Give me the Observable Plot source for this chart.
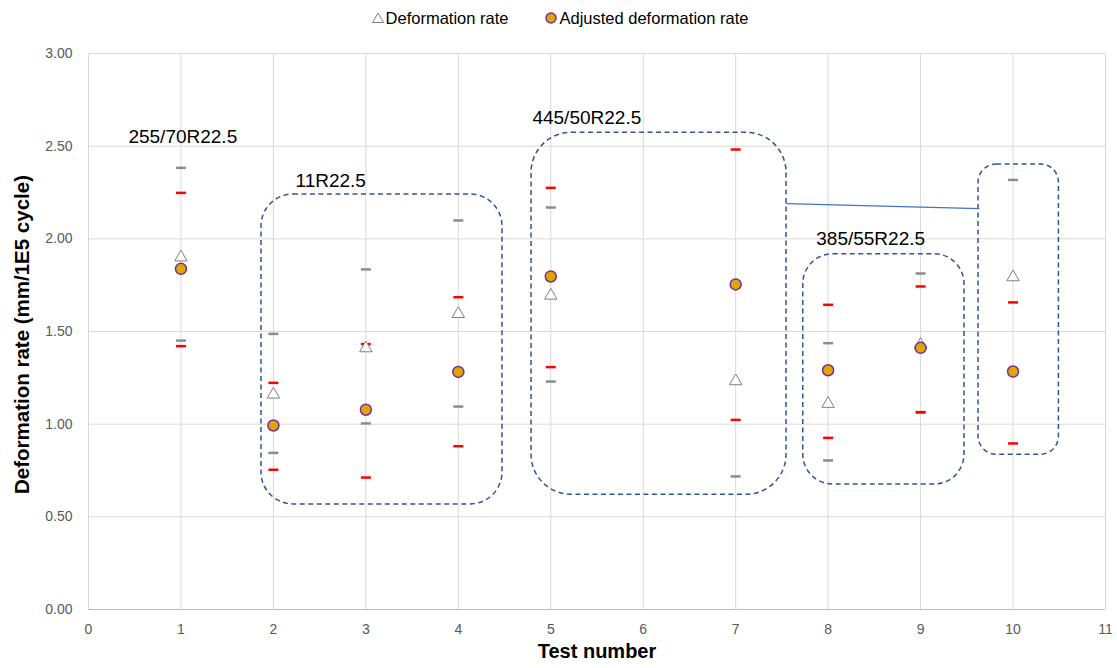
<!DOCTYPE html>
<html>
<head>
<meta charset="utf-8">
<script src="https://cdn.jsdelivr.net/npm/d3@7"></script>
<script src="https://cdn.jsdelivr.net/npm/@observablehq/plot@0.6"></script>
<style>
  body { margin: 0; background: #fff; font-family: "Liberation Sans", Arial, sans-serif; }
  #legend { height: 36px; display: flex; align-items: center; justify-content: center; font-size: 16.5px; color: #000; padding-left: 2px; }
  #legend .item { display: flex; align-items: center; margin: 0 18px; }
  #legend svg { margin-right: 1px; }
</style>
</head>
<body>
<div id="legend">
  <span class="item"><svg width="14" height="14" viewBox="-7 -7 14 14"><path d="M0,-5L5.5,4.5L-5.5,4.5Z" fill="#fff" stroke="#808080" stroke-width="1"/></svg>Deformation rate</span>
  <span class="item"><svg width="14" height="14" viewBox="-7 -7 14 14"><circle r="5" fill="#E3A400" stroke="#7030A0" stroke-width="1.5"/></svg>Adjusted deformation rate</span>
</div>
<div id="chart"></div>
<script>
// ---- data ----
const tests = [1, 2, 3, 4, 5, 7, 8, 9, 10];
const deformationRate = [1.90, 1.16, 1.41, 1.595, 1.694, 1.232, 1.110, 1.428, 1.793];
const adjustedRate = [1.838, 0.993, 1.078, 1.282, 1.797, 1.754, 1.291, 1.412, 1.284];
const grayUpper = [2.383, 1.487, 1.835, 2.099, 2.169, null, 1.437, 1.813, 2.318];
const grayLower = [1.451, 0.845, 1.004, 1.095, 1.230, 0.718, 0.804, 1.062, null];
const redUpper = [2.248, 1.223, 1.432, 1.685, 2.275, 2.482, 1.644, 1.743, 1.657];
const redLower = [1.421, 0.754, 0.712, 0.881, 1.308, 1.023, 0.926, 1.065, 0.896];

const groupNames = ["11R22.5", "445/50R22.5", "385/55R22.5", "10"];
const groupX1 = [1.871, 4.792, 7.731, 9.627];
const groupX2 = [4.478, 7.55, 9.475, 10.496];
const groupY1 = [0.567, 0.619, 0.674, 0.835];
const groupY2 = [2.239, 2.572, 1.917, 2.401];

const labelText = ["255/70R22.5", "11R22.5", "445/50R22.5", "385/55R22.5"];
const labelX = [1.02, 2.62, 5.39, 8.46];
const labelY = [2.55, 2.315, 2.655, 2.0];

const connectorX = [7.55, 9.63];
const connectorY = [2.19, 2.163];

const xTicks = [0, 1, 2, 3, 4, 5, 6, 7, 8, 9, 10, 11];
const yTicks = [0, 0.5, 1, 1.5, 2, 2.5, 3];

// ---- tables ----
const pts = tests.map((t, i) => ({
  t, dr: deformationRate[i], adj: adjustedRate[i],
  gu: grayUpper[i], gl: grayLower[i], ru: redUpper[i], rl: redLower[i]
}));
const boxes = groupNames.map((n, i) => ({ n, x1: groupX1[i], x2: groupX2[i], y1: groupY1[i], y2: groupY2[i] }));
const labels = labelText.map((s, i) => ({ s, x: labelX[i], y: labelY[i] }));
const connector = connectorX.map((x, i) => ({ x, y: connectorY[i] }));

const dash = { draw(ctx, size) { ctx.moveTo(-5, 0); ctx.lineTo(5, 0); } };

const boxMark = (i, rx) => Plot.rect([boxes[i]], {
  x1: "x1", x2: "x2", y1: "y1", y2: "y2", rx, ry: rx,
  fill: "none", stroke: "#2F5597", strokeWidth: 1.5, strokeDasharray: "5,3.5"
});

const chart = Plot.plot({
  width: 1117, height: 632,
  marginLeft: 88, marginRight: 12, marginTop: 17, marginBottom: 59,
  style: { fontFamily: "'Liberation Sans', Arial, sans-serif", background: "#fff" },
  x: { domain: [0, 11] },
  y: { domain: [0, 3] },
  marks: [
    Plot.gridX(xTicks, { stroke: "#D9D9D9", strokeOpacity: 1, strokeWidth: 1 }),
    Plot.gridY(yTicks, { stroke: "#D9D9D9", strokeOpacity: 1, strokeWidth: 1 }),
    Plot.ruleY([0], { stroke: "#BFBFBF", strokeWidth: 1.2 }),
    Plot.axisX(xTicks, { tickSize: 0, tickPadding: 15, fontSize: 14, fill: "#595959", label: null, tickFormat: d => d }),
    Plot.axisY(yTicks, { tickSize: 0, tickPadding: 16, fontSize: 14, fill: "#595959", label: null, tickFormat: d => d.toFixed(2) }),
    Plot.text(["Test number"], { frameAnchor: "bottom", dy: 48, fontSize: 20, fontWeight: "bold", fill: "#000" }),
    Plot.text(["Deformation rate (mm/1E5 cycle)"], { frameAnchor: "left", textAnchor: "middle", dx: -66, dy: 3, rotate: -90, fontSize: 20.5, fontWeight: "bold", fill: "#000" }),
    boxMark(0, 32), boxMark(1, 40), boxMark(2, 30), boxMark(3, 18),
    Plot.line(connector, { x: "x", y: "y", stroke: "#4472C4", strokeWidth: 1.2 }),
    Plot.text(labels, { x: "x", y: "y", text: "s", fontSize: 19, fill: "#000" }),
    Plot.dot(pts.filter(d => d.gu != null), { x: "t", y: "gu", symbol: dash, stroke: "#8C8C8C", strokeWidth: 2.5 }),
    Plot.dot(pts.filter(d => d.gl != null), { x: "t", y: "gl", symbol: dash, stroke: "#8C8C8C", strokeWidth: 2.5 }),
    Plot.dot(pts, { x: "t", y: "ru", symbol: dash, stroke: "#FF0000", strokeWidth: 2.5 }),
    Plot.dot(pts, { x: "t", y: "rl", symbol: dash, stroke: "#FF0000", strokeWidth: 2.5 }),
    Plot.dot(pts, { x: "t", y: "dr", symbol: "triangle", r: 4.6, fill: "#fff", stroke: "#808080", strokeWidth: 1 }),
    Plot.dot(pts, { x: "t", y: "adj", symbol: "circle", r: 5.5, fill: "#E3A400", stroke: "#7030A0", strokeWidth: 1.5 })
  ]
});
document.getElementById("chart").appendChild(chart);
</script>
</body>
</html>
